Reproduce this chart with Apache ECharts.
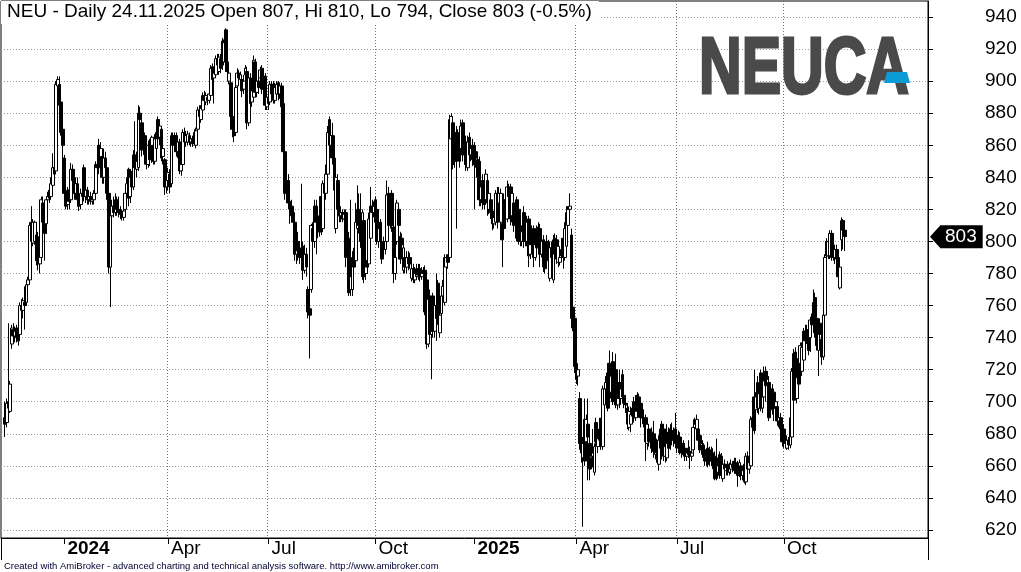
<!DOCTYPE html>
<html>
<head>
<meta charset="utf-8">
<title>NEU daily</title>
<script src="https://cdn.jsdelivr.net/npm/echarts@6/dist/echarts.min.js"></script>
<style>
  html, body { margin: 0; padding: 0; background: #fff; }
  #main { width: 1021px; height: 572px; }
</style>
</head>
<body>
<div id="main"></div>
<script>
// daily bars, each row: open, close, low, high
var ohlc = [
  [690,686,678,700],[687,699,684,702],[700,696,692,749],[694,711,693,713],[736,746,733,748],[745,741,738,749],[741,744,737,747],[746,740,737,748],[740,738,735,746],[742,760,740,762],
  [760,757,752,764],[757,763,752,765],[762,760,745,772],[762,773,760,776],[773,776,770,778],[776,810,774,812],[812,800,797,822],[799,812,797,814],[800,812,798,813],[804,788,785,812],
  [803,786,782,806],[786,790,780,795],[790,826,787,828],[824,812,808,828],[812,805,788,814],[811,826,809,828],[826,828,822,831],[832,827,824,834],[828,836,826,840],[835,846,832,855],
  [846,842,836,850],[844,898,842,900],[897,901,890,903],[898,885,880,903],[887,868,866,890],[870,860,852,874],[852,830,826,854],[830,822,820,836],[823,832,820,834],[832,825,820,836],
  [826,845,824,849],[845,838,832,848],[838,830,826,842],[830,836,826,840],[836,826,822,840],[826,822,819,832],[823,830,820,833],[830,828,824,838],[846,828,825,848],[828,832,824,836],
  [832,826,823,834],[826,828,823,831],[828,825,823,831],[825,826,823,830],[826,830,823,832],[830,848,828,850],[848,846,838,852],[860,846,842,864],[848,858,844,862],[853,840,836,856],
  [840,852,836,858],[852,846,838,856],[846,830,826,848],[830,784,780,834],[784,816,759,818],[816,822,812,826],[822,818,815,828],[818,826,816,830],[826,820,816,828],[820,818,815,828],
  [818,817,814,822],[817,815,813,820],[815,819,813,821],[820,830,818,832],[830,836,826,840],[845,827,822,846],[828,840,824,845],[840,834,828,844],[834,854,832,857],[854,846,840,875],
  [845,850,840,856],[846,880,844,885],[880,876,868,884],[874,857,853,876],[858,866,854,870],[866,855,848,868],[856,848,845,862],[848,860,846,863],[860,851,847,864],[851,865,849,866],
  [860,850,848,865],[850,864,848,867],[858,868,855,870],[876,864,862,878],[865,872,860,876],[870,852,850,872],[853,858,848,862],[851,834,829,852],[834,838,830,842],[838,843,832,846],
  [842,834,830,845],[836,866,834,868],[866,860,852,868],[860,866,856,868],[866,856,853,868],[856,862,852,866],[862,844,842,864],[844,848,841,852],[848,868,846,870],[868,862,858,871],
  [862,866,859,869],[862,867,860,869],[866,862,860,868],[862,864,859,866],[864,861,859,866],[861,868,860,870],[860,869,858,871],[870,882,868,884],[882,878,874,885],[876,883,874,885],
  [882,891,880,893],[891,888,884,894],[887,891,885,893],[890,888,885,892],[888,892,886,894],[891,908,889,910],[909,901,898,911],[902,905,886,908],[904,914,902,916],[914,910,905,917],
  [906,915,904,917],[914,908,905,917],[925,910,907,927],[912,924,910,926],[932,912,908,933],[912,906,900,916],[900,905,898,908],[899,878,876,901],[878,870,865,882],[872,866,862,876],
  [868,896,866,898],[897,905,895,908],[905,902,899,907],[901,904,899,906],[901,894,890,903],[895,900,892,904],[904,908,902,910],[906,874,870,909],[874,902,872,904],[902,886,884,905],
  [887,894,884,898],[890,913,887,916],[912,893,890,914],[893,900,890,904],[900,896,892,904],[902,907,899,909],[908,895,892,910],[895,903,892,906],[903,885,882,905],[884,890,882,893],
  [890,886,882,893],[887,898,885,900],[898,892,888,900],[898,888,886,900],[888,896,886,899],[892,898,890,900],[899,892,888,900],[892,897,889,899],[897,884,880,899],[886,856,852,888],
  [856,830,826,858],[830,838,824,842],[838,824,820,842],[825,822,811,830],[822,816,812,826],[818,812,808,822],[812,792,788,815],[792,800,786,804],[800,794,788,806],[794,790,786,800],
  [790,796,786,836],[797,782,776,800],[782,792,780,798],[792,784,778,796],[770,756,752,772],[758,754,727,764],[770,810,768,811],[808,800,796,812],[800,822,796,826],[822,812,792,826],
  [812,806,802,818],[806,816,803,820],[828,806,804,830],[808,836,806,838],[836,830,822,840],[830,842,826,848],[842,868,840,872],[876,860,857,878],[860,866,852,870],[866,852,848,874],
  [852,832,828,856],[808,840,805,843],[838,820,816,842],[820,816,812,824],[816,818,812,822],[818,814,812,820],[814,817,812,820],[818,790,784,820],[790,796,786,804],[802,768,766,806],
  [770,778,766,826],[770,790,766,794],[790,784,778,796],[788,812,786,824],[808,820,805,835],[820,810,805,830],[813,800,796,830],[778,818,776,820],[813,778,774,816],[780,788,776,792],
  [788,784,780,792],[786,814,784,818],[802,822,800,834],[822,818,814,826],[818,822,815,825],[826,812,810,828],[820,800,798,824],[800,808,796,812],[812,800,798,814],[799,789,786,802],
  [800,795,790,803],[795,800,792,804],[800,829,798,838],[830,810,806,834],[812,826,808,828],[830,810,806,832],[809,780,774,812],[780,790,776,796],[800,824,798,826],[820,810,806,824],
  [803,789,786,806],[802,798,794,805],[782,796,780,800],[790,784,780,794],[784,790,780,794],[790,786,782,794],[790,786,783,793],[777,783,775,786],[783,776,774,786],[776,780,774,784],
  [778,783,776,786],[783,779,776,786],[783,778,775,786],[778,781,776,784],[782,780,776,784],[782,756,754,785],[776,736,733,780],[736,764,734,768],[766,742,738,770],[742,744,714,750],
  [766,744,740,768],[744,760,740,764],[760,752,738,780],[774,752,748,776],[743,754,740,758],[755,766,752,770],[766,772,762,776],[762,790,760,792],[784,790,782,792],[790,787,783,792],
  [790,876,788,879],[864,878,860,880],[874,848,845,878],[850,866,846,870],[868,850,808,872],[866,856,852,870],[868,850,846,870],[858,872,855,876],[874,854,850,876],[854,860,848,864],
  [862,848,844,866],[846,862,844,866],[865,854,850,868],[854,858,850,862],[860,851,847,864],[858,848,820,862],[856,852,846,860],[851,840,836,855],[850,826,822,853],[826,834,822,840],
  [838,824,820,842],[834,823,820,838],[826,842,824,845],[838,824,816,842],[820,830,817,832],[826,818,814,830],[819,811,807,822],[811,815,808,818],[812,830,810,832],[830,812,808,834],
  [824,830,820,834],[812,830,810,833],[811,801,784,814],[826,808,804,830],[820,826,816,829],[814,834,812,838],[834,828,822,836],[834,814,810,836],[816,830,812,832],[824,810,806,828],
  [810,818,806,822],[826,802,800,828],[820,800,798,822],[807,800,797,810],[800,806,797,810],[818,800,796,822],[808,800,797,812],[800,812,797,816],[814,791,784,816],[792,798,789,802],
  [807,800,797,810],[808,790,784,810],[790,798,788,802],[807,796,793,810],[809,800,796,812],[808,792,784,811],[792,800,790,804],[801,784,781,804],[798,783,780,801],[800,788,785,804],
  [797,791,786,801],[777,796,775,800],[796,790,786,800],[776,801,774,804],[802,792,788,805],[801,789,786,804],[787,797,784,800],[787,790,785,794],[795,791,788,798],[802,790,783,804],
  [790,808,788,812],[797,818,795,822],[810,820,806,822],[820,822,815,830],[804,752,750,808],[759,746,744,762],[752,722,718,755],[722,714,711,726],[716,720,710,724],[702,674,670,706],
  [674,668,662,680],[665,674,622,678],[689,663,660,702],[675,689,670,692],[686,678,651,702],[674,658,651,678],[665,666,660,670],[666,668,659,683],[656,672,654,674],[687,675,672,690],
  [672,677,668,680],[676,683,672,690],[688,674,670,690],[672,708,670,710],[698,708,695,711],[708,712,700,716],[718,696,694,722],[724,706,703,732],[706,716,702,722],[725,700,698,731],
  [715,702,698,720],[720,698,696,730],[698,710,695,714],[712,702,696,720],[702,708,698,712],[717,703,700,720],[704,699,696,707],[699,698,693,703],[696,686,683,699],[684,694,682,697],
  [686,692,681,697],[696,691,688,699],[700,690,687,703],[690,697,688,700],[704,694,691,706],[703,692,690,705],[699,690,684,702],[695,690,686,698],[690,688,684,693],[690,675,663,692],
  [674,686,670,689],[683,675,672,686],[675,678,671,682],[681,671,668,684],[680,669,665,688],[667,674,664,677],[674,668,662,677],[661,676,657,679],[683,671,668,686],[686,677,664,688],
  [683,666,663,686],[666,672,662,676],[665,674,663,686],[681,671,668,684],[683,673,670,686],[682,676,674,687],[676,680,672,684],[683,674,671,693],[679,672,668,682],[679,671,668,682],
  [678,670,667,681],[674,668,665,677],[674,667,666,676],[671,666,663,674],[666,668,663,671],[671,667,665,676],[669,666,658,672],[666,668,663,671],[670,684,668,689],[684,686,680,690],
  [683,689,680,692],[683,676,672,686],[679,670,668,681],[670,674,667,677],[673,668,665,676],[670,663,660,673],[663,666,660,669],[671,661,659,675],[669,663,660,672],[670,664,661,672],
  [668,660,658,671],[666,652,651,669],[665,656,651,677],[656,660,652,664],[667,654,652,669],[666,660,656,668],[652,661,650,663],[661,658,655,664],[657,659,654,661],[661,656,654,663],
  [656,659,654,662],[658,661,655,664],[661,659,656,663],[663,657,655,665],[662,658,655,665],[661,654,647,663],[656,662,653,664],[660,654,651,662],[654,657,651,660],[661,650,649,665],
  [650,666,648,668],[666,658,655,669],[658,662,655,666],[660,689,658,691],[684,690,681,693],[703,682,680,720],[695,703,692,706],[712,696,693,716],[696,705,692,710],[718,696,694,720],
  [696,703,693,708],[703,713,700,722],[719,710,700,722],[710,714,704,718],[712,690,688,716],[708,704,700,711],[708,695,692,711],[706,696,688,708],[696,700,692,704],[697,688,685,700],
  [688,690,684,694],[690,683,680,693],[685,675,672,688],[683,674,671,686],[674,676,671,680],[671,676,670,679],[676,673,670,678],[673,690,671,693],[678,719,676,721],[730,701,698,733],
  [731,715,712,734],[702,715,699,718],[727,711,702,730],[724,735,720,737],[719,734,716,737],[726,744,722,746],[744,738,734,748],[745,739,736,748],[743,732,729,746],[740,751,731,753],
  [751,748,742,755],[748,762,746,770],[765,743,740,768],[752,735,732,756],[732,746,716,750],[749,742,738,752],[739,728,723,742],[728,754,726,757],[754,790,752,792],[800,791,788,802],
  [791,800,789,802],[791,805,789,807],[805,790,788,807],[796,790,788,805],[790,795,786,798],[795,789,786,798],[790,778,776,793],[771,784,770,786],[801,813,794,815],[813,807,795,814],
  [807,803,794,810]
];

// first session of each quarter (bar number) and its label
var tickBars = [36, 99, 160, 225, 285, 347, 408, 473];
var tickLabels = ['2024', 'Apr', 'Jul', 'Oct', '2025', 'Apr', 'Jul', 'Oct'];
var priceTicks = [620, 640, 660, 680, 700, 720, 740, 760, 780, 800, 820, 840, 860, 880, 900, 920, 940];

var lead = 2;   // empty sessions before the first bar
var tail = 50;  // empty sessions after the last bar

var cats = [];
for (var i = 0; i < lead + ohlc.length + tail; i++) cats.push(String(i));
var rows = ohlc.map(function (b, k) { return [k + lead, b[0], b[1], b[2], b[3]]; });

var labelAt = {};
tickBars.forEach(function (b, k) { labelAt[b + lead] = tickLabels[k]; });
function isYear(t) { return /^\d{4}$/.test(t); }

var last = ohlc[ohlc.length - 1];
var prev = ohlc[ohlc.length - 2];
var pct = ((last[1] / prev[1] - 1) * 100).toFixed(1);
var titleText = 'NEU - Daily 24.11.2025 Open ' + last[0] + ', Hi ' + last[3] +
  ', Lo ' + last[2] + ', Close ' + last[1] + ' (' + pct + '%)';

var arrowUri = 'data:image/svg+xml;utf8,' + encodeURIComponent(
  '<svg xmlns="http://www.w3.org/2000/svg" width="11" height="22" viewBox="0 0 11 22" preserveAspectRatio="none">' +
  '<polygon points="0,11 11,0 11,22" fill="#000"/></svg>');

var font = 'Liberation Sans';
var chart = echarts.init(document.getElementById('main'), null, { renderer: 'canvas' });

chart.setOption({
  animation: false,
  backgroundColor: '#fff',
  textStyle: { fontFamily: font },
  title: [
    {
      text: titleText,
      left: 1, top: 1,
      padding: [1, 7, 3, 6],
      backgroundColor: '#fff',
      textStyle: { fontSize: 19, fontWeight: 'normal', color: '#000', fontFamily: font }
    },
    {
      text: 'Created with AmiBroker - advanced charting and technical analysis software. http://www.amibroker.com',
      left: 4, top: 561,
      padding: 0,
      textStyle: { fontSize: 9.5, fontWeight: 'normal', color: '#000033', fontFamily: font }
    }
  ],
  grid: {
    left: 1, top: 1, right: 93, bottom: 34,
    show: true, borderColor: '#000', borderWidth: 1,
    outerBoundsMode: 'none'
  },
  xAxis: {
    type: 'category',
    data: cats,
    boundaryGap: true,
    axisLine: { show: true, lineStyle: { color: '#000', width: 1 } },
    axisTick: {
      show: true, alignWithLabel: true, length: 6,
      interval: function (idx) { return !!labelAt[idx]; },
      lineStyle: { color: '#000' }
    },
    axisLabel: {
      interval: function (idx) { return !!labelAt[idx]; },
      formatter: function (v, idx) {
        var t = labelAt[idx];
        if (!t) return '';
        return isYear(t) ? '{y|' + t + '}' : t;
      },
      align: 'left',
      margin: 1,
      padding: [0, 0, 0, 3],
      fontSize: 19,
      color: '#000',
      fontFamily: font,
      rich: { y: { fontSize: 19, fontWeight: 'bold', color: '#000', fontFamily: font } }
    },
    splitLine: {
      show: true,
      interval: function (idx) { var t = labelAt[idx]; return !!t && !isYear(t); },
      lineStyle: { color: '#6f6f6f', type: [1, 2], width: 1 }
    }
  },
  yAxis: [
    {
      type: 'value',
      position: 'right',
      min: 615, max: 950,
      axisLine: { show: true, lineStyle: { color: '#000', width: 1 } },
      axisTick: { show: true, length: 5, customValues: priceTicks, lineStyle: { color: '#000' } },
      axisLabel: { customValues: priceTicks, margin: 57, fontSize: 19, color: '#000', fontFamily: font },
      splitLine: { show: true, lineStyle: { color: '#9a9a9a', type: [1, 2], width: 1 } }
    },
    {
      // last close marker on the price scale
      type: 'value',
      position: 'right',
      min: 615, max: 950,
      axisLine: { show: false },
      axisTick: { show: false },
      splitLine: { show: false },
      axisLabel: {
        customValues: [last[1]],
        margin: 2,
        formatter: function (v) { return '{a| }{b|' + v + '}'; },
        rich: {
          a: { width: 10, height: 22, backgroundColor: { image: arrowUri } },
          b: {
            backgroundColor: '#000', color: '#fff', fontSize: 19, fontFamily: font,
            height: 22, lineHeight: 22, padding: [1, 6, 0, 5]
          }
        }
      }
    }
  ],
  series: [
    {
      type: 'candlestick',
      data: rows,
      encode: { x: 0, y: [1, 2, 3, 4] },
      barWidth: 3.3,
      itemStyle: {
        color: '#fff', color0: '#000',
        borderColor: '#000', borderColor0: '#000', borderColorDoji: '#000',
        borderWidth: 1
      },
      emphasis: { disabled: true }
    }
  ],
  graphic: [
    {
      type: 'text', x: 699, y: 71, scaleX: 0.738, z: 10,
      style: {
        text: 'NEUCA', font: 'bold 80px "Liberation Sans"', fill: '#4a4a4a',
        stroke: '#4a4a4a', lineWidth: 3,
        textAlign: 'left', textVerticalAlign: 'middle'
      }
    },
    {
      type: 'polygon', z: 11,
      shape: { points: [[887, 72], [907, 72], [910, 83], [884, 83]] },
      style: { fill: '#0b9bd7' }
    },
    { type: 'line', shape: { x1: 1.5, y1: 538, x2: 1.5, y2: 560 }, style: { stroke: '#000', lineWidth: 1 } },
    { type: 'line', shape: { x1: 928.5, y1: 538, x2: 928.5, y2: 560 }, style: { stroke: '#000', lineWidth: 1 } }
  ]
});
</script>
</body>
</html>
